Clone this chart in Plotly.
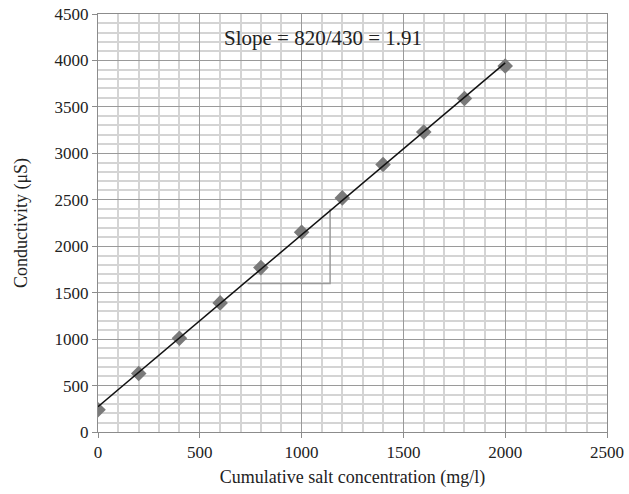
import numpy as np
import plotly.graph_objects as go

salt = [0, 200, 400, 600, 800, 1000, 1200, 1400, 1600, 1800, 2000]
conductivity = [240, 630, 1010, 1390, 1770, 2150, 2520, 2880, 3230, 3590, 3940]
tri_x = [735, 1140, 1140]
tri_y = [1600, 1600, 2400]
slope_label = "Slope = 820/430 = 1.91"

m, b = np.polyfit(salt, conductivity, 1)
fit_x = [salt[0], salt[-1]]
fit_y = [m * v + b for v in fit_x]

font = "Liberation Serif, Times New Roman, serif"
fig = go.Figure()
fig.add_trace(go.Scatter(x=tri_x, y=tri_y, mode="lines",
                         line=dict(color="#9a9a9a", width=1.5), hoverinfo="skip"))
fig.add_trace(go.Scatter(x=salt, y=conductivity, mode="markers",
                         marker=dict(symbol="diamond", size=12, color="#7a7a7a")))
fig.add_trace(go.Scatter(x=fit_x, y=fit_y, mode="lines",
                         line=dict(color="#111111", width=1.5)))

fig.add_annotation(x=1105, y=4245, text=slope_label, showarrow=False,
                   font=dict(family=font, size=21, color="#222"))

axis_common = dict(showline=True, linecolor="#8c8c8c", linewidth=1, mirror=True,
                   gridcolor="#9a9a9a", gridwidth=1, zeroline=False,
                   ticks="outside", ticklen=5, tickcolor="#8c8c8c", automargin=False,
                   ticklabeloverflow="allow",
                   tickfont=dict(family=font, size=17, color="#222"))
fig.update_xaxes(range=[0, 2500], dtick=500, tick0=0,
                 minor=dict(dtick=100, showgrid=True, gridcolor="#d4d4d4", gridwidth=1.5),
                 title=dict(text="Cumulative salt concentration (mg/l)",
                            font=dict(family=font, size=18, color="#222"), standoff=8),
                 **axis_common)
fig.update_yaxes(range=[0, 4500], dtick=500, tick0=0,
                 minor=dict(dtick=100, showgrid=True, gridcolor="#d4d4d4", gridwidth=1.5),
                 title=dict(text="Conductivity (μS)",
                            font=dict(family=font, size=18, color="#222"), standoff=22),
                 **axis_common)
fig.update_layout(width=629, height=494, showlegend=False,
                  plot_bgcolor="white", paper_bgcolor="white",
                  margin=dict(l=98, r=22, t=14, b=62))
# remove the page's default 8px body margin so the figure fills the window
fig.write_html("out.html", config={"displayModeBar": False},
               post_script="document.body.style.margin='0';")
